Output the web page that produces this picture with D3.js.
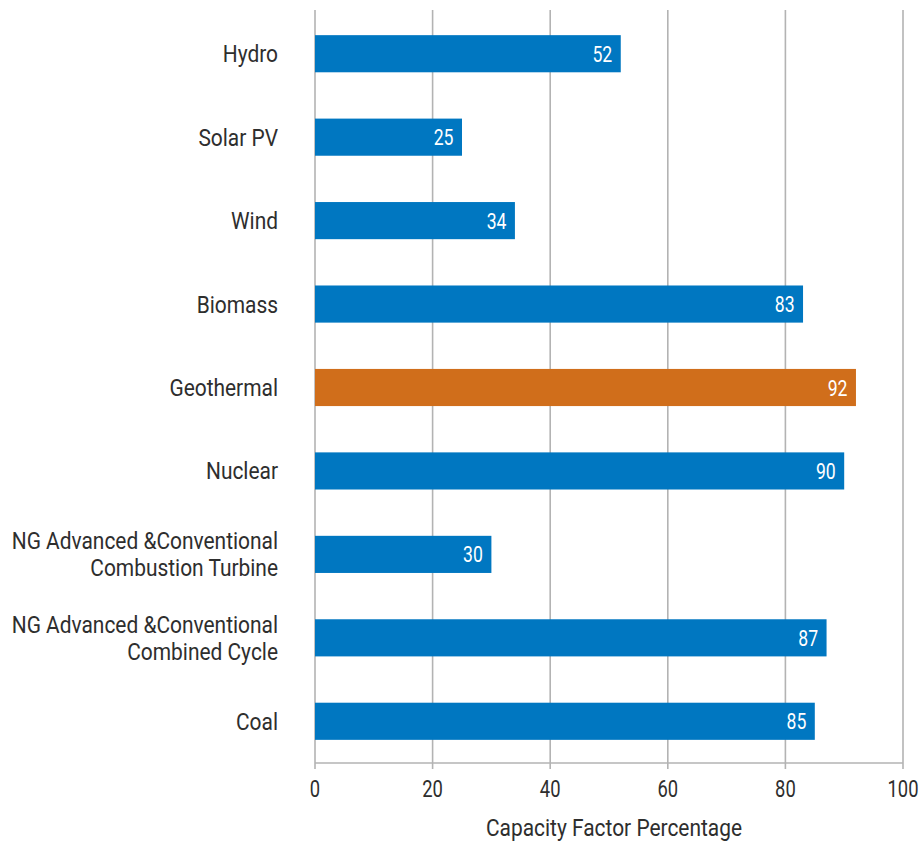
<!DOCTYPE html>
<html>
<head>
<meta charset="utf-8">
<script src="https://cdn.jsdelivr.net/npm/d3@7"></script>
<style>
  body { margin: 0; background: #fff; }
  svg text { font-family: "Roboto", "Liberation Sans", sans-serif; }
</style>
</head>
<body>
<svg id="chart" width="920" height="842"></svg>
<script>
// Capacity factor by generation technology
const categories = [
  "Hydro",
  "Solar PV",
  "Wind",
  "Biomass",
  "Geothermal",
  "Nuclear",
  "NG Advanced &Conventional\nCombustion Turbine",
  "NG Advanced &Conventional\nCombined Cycle",
  "Coal"
];
const values = [52, 25, 34, 83, 92, 90, 30, 87, 85];
const highlighted = ["Geothermal"];
const xTicks = [0, 20, 40, 60, 80, 100];
const xTitle = "Capacity Factor Percentage";

const svg = d3.select("#chart");
const plotLeft = 315, plotRight = 903, plotTop = 12, plotBottom = 763;
const textColor = "#2e2e2e";
const narrow = 0.91;     // horizontal squeeze for a condensed look
const narrowNum = 0.8;

const x = d3.scaleLinear().domain([0, 100]).range([plotLeft, plotRight]);
const y = d3.scaleBand().domain(categories).range([plotTop, plotBottom]).padding(0);
const barH = y.bandwidth() * 0.445;
const cy = d => y(d) + y.bandwidth() / 2;

// condensed text helper: places text at (tx, ty) squeezed horizontally
function cText(parent, tx, ty, sx) {
  return parent.append("text")
    .attr("transform", `translate(${tx},${ty}) scale(${sx},1)`);
}

// vertical grid lines
svg.append("g").selectAll("line").data(xTicks).join("line")
  .attr("x1", d => x(d)).attr("x2", d => x(d))
  .attr("y1", 10).attr("y2", plotBottom + 6)
  .attr("stroke", "#b3b3b3").attr("stroke-width", 1.6);

// bottom axis line
svg.append("line")
  .attr("x1", plotLeft).attr("x2", plotRight)
  .attr("y1", plotBottom).attr("y2", plotBottom)
  .attr("stroke", "#b3b3b3").attr("stroke-width", 1.6);

// tick labels
const tickG = svg.append("g");
xTicks.forEach(t => {
  cText(tickG, x(t), 797, narrowNum)
    .attr("text-anchor", "middle")
    .attr("font-size", 23).attr("fill", textColor)
    .text(t);
});

cText(svg, (plotLeft + plotRight) / 2 + 5, 836, narrow)
  .attr("text-anchor", "middle")
  .attr("font-size", 23).attr("fill", textColor)
  .text(xTitle);

// bars
svg.append("g").selectAll("rect").data(categories).join("rect")
  .attr("x", x(0))
  .attr("y", d => cy(d) - barH / 2)
  .attr("width", (d, i) => x(values[i]) - x(0))
  .attr("height", barH)
  .attr("fill", d => highlighted.includes(d) ? "#d06e1b" : "#0077c1");

// value labels inside bar ends
const valG = svg.append("g");
categories.forEach((c, i) => {
  cText(valG, x(values[i]) - 8.5, cy(c) + 8, narrowNum)
    .attr("text-anchor", "end")
    .attr("font-size", 22).attr("fill", "#fff")
    .text(values[i]);
});

// category labels
const labG = svg.append("g");
categories.forEach(c => {
  const lines = c.split("\n");
  const lh = 27;
  const y0 = cy(c) - (lines.length - 1) * lh / 2 + 8.5;
  lines.forEach((ln, i) => {
    cText(labG, 278, y0 + i * lh, narrow)
      .attr("text-anchor", "end")
      .attr("font-size", 23).attr("fill", textColor)
      .text(ln);
  });
});
</script>
</body>
</html>
